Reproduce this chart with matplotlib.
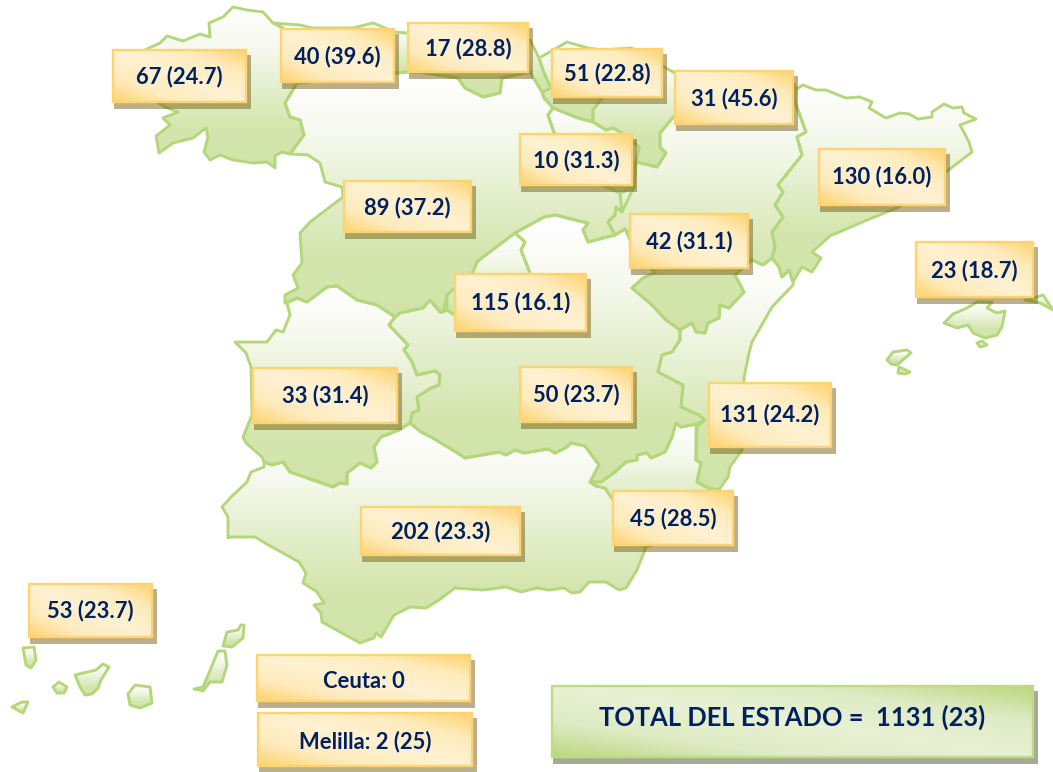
import numpy as np
import matplotlib
matplotlib.use('Agg')
import matplotlib.pyplot as plt
from matplotlib.colors import LinearSegmentedColormap
from matplotlib.patches import Polygon, Rectangle

plt.rcParams['font.family'] = ['Lato', 'DejaVu Sans']

# region outlines (pixel coordinates)
galicia = [(147, 49), (160, 43), (167, 36), (183, 41), (200, 34), (210, 37), (209, 23), (223, 17), (233, 7), (247, 10),
           (263, 12), (273, 23), (283, 28), (297, 83), (285, 103), (290, 117), (300, 120), (304, 135), (290, 154),
           (282, 152), (275, 156), (275, 168), (267, 162), (253, 163), (233, 160), (220, 155), (210, 160), (204, 152),
           (208, 137), (206, 128), (193, 138), (173, 143), (159, 153), (156, 136), (170, 125), (163, 118), (178, 112),
           (165, 107), (140, 90), (130, 60)]
asturias = [(273, 23), (300, 25), (313, 28), (333, 28), (353, 28), (373, 23), (395, 32), (407, 33), (425, 34), (425, 72),
            (407, 72), (397, 73), (297, 83), (283, 28)]
pais_vasco = [(420, 30), (530, 40), (539, 58), (544, 73), (551, 88), (542, 92), (530, 72), (502, 78), (500, 93),
              (483, 97), (465, 88), (458, 78), (438, 75), (420, 72)]
region_a = [(539, 58), (548, 53), (567, 42), (588, 48), (602, 50), (602, 98), (593, 110), (593, 122), (578, 118),
            (553, 108), (544, 98), (542, 92), (551, 88), (544, 73)]
navarra = [(602, 50), (632, 48), (664, 67), (675, 73), (690, 90), (675, 115), (660, 133), (660, 147), (666, 153),
           (657, 167), (636, 162), (639, 147), (622, 133), (613, 128), (606, 130), (593, 122), (593, 110), (602, 98)]
rioja = [(553, 108), (578, 118), (593, 122), (606, 130), (613, 128), (622, 133), (639, 147), (636, 162), (634, 187),
         (620, 193), (570, 170), (553, 130), (548, 115)]
cyl = [(397, 73), (407, 72), (420, 72), (438, 75), (458, 78), (465, 88), (483, 97), (500, 93), (502, 78), (530, 72),
       (542, 92), (544, 98), (553, 108), (548, 115), (553, 130), (570, 170), (620, 193), (634, 187), (622, 212),
       (616, 207), (615, 215), (608, 222), (615, 235), (588, 242), (583, 230), (588, 223), (567, 218), (556, 215),
       (544, 217), (515, 233), (483, 257), (477, 262), (473, 272), (447, 295), (443, 312), (440, 312), (430, 300),
       (423, 308), (400, 313), (395, 317), (377, 305), (357, 300), (337, 286), (327, 287), (307, 302), (297, 298),
       (285, 303), (285, 295), (298, 288), (293, 275), (302, 263), (300, 233), (310, 222), (343, 197), (342, 187),
       (325, 182), (320, 163), (308, 155), (290, 154), (304, 135), (300, 120), (290, 117), (285, 103), (297, 83)]
aragon = [(690, 90), (780, 75), (795, 85), (795, 102), (806, 132), (797, 137), (802, 155), (778, 185), (783, 192),
          (775, 205), (783, 217), (772, 232), (775, 247), (772, 258), (763, 265), (752, 260), (735, 275), (744, 292),
          (729, 308), (720, 305), (719, 318), (708, 323), (705, 333), (696, 332), (692, 323), (680, 330), (666, 320),
          (652, 305), (632, 288), (643, 278), (655, 273), (630, 240), (629, 233), (625, 229), (615, 235), (608, 222),
          (615, 215), (616, 207), (622, 212), (620, 193), (634, 187), (636, 162), (657, 167), (666, 153), (660, 147),
          (660, 133), (675, 115)]
catalunya = [(795, 102), (795, 90), (803, 85), (816, 90), (826, 90), (846, 98), (860, 97), (872, 102), (869, 108),
             (886, 118), (900, 113), (909, 114), (918, 119), (932, 117), (932, 112), (944, 104), (953, 108), (962, 107),
             (964, 113), (976, 119), (960, 125), (969, 142), (972, 152), (946, 172), (899, 207), (867, 220), (830, 236),
             (812, 252), (821, 258), (812, 272), (802, 267), (793, 282), (789, 270), (782, 277), (779, 267), (772, 258),
             (775, 247), (772, 232), (783, 217), (775, 205), (783, 192), (778, 185), (802, 155), (797, 137), (806, 132)]
valencia = [(763, 265), (772, 258), (779, 267), (782, 277), (789, 270), (793, 282), (793, 285), (772, 307), (752, 342),
            (749, 353), (744, 378), (745, 420), (742, 450), (730, 467), (728, 477), (719, 490), (708, 488), (697, 482),
            (701, 463), (696, 460), (696, 427), (705, 420), (699, 415), (681, 407), (683, 385), (658, 372), (662, 355),
            (672, 352), (680, 340), (680, 330), (692, 323), (696, 332), (705, 333), (708, 323), (719, 318), (720, 305),
            (729, 308), (744, 292), (735, 275), (752, 260)]
madrid = [(515, 233), (525, 242), (521, 250), (530, 273), (540, 300), (520, 330), (470, 325), (447, 310), (447, 295),
          (473, 272), (477, 262), (483, 257)]
clm = [(515, 233), (544, 217), (556, 215), (567, 218), (588, 223), (583, 230), (588, 242), (615, 235), (625, 229),
       (630, 240), (655, 273), (643, 278), (632, 288), (652, 305), (666, 320), (680, 330), (680, 340), (672, 352),
       (662, 355), (658, 372), (683, 385), (681, 407), (699, 415), (705, 420), (697, 424), (681, 427), (676, 423),
       (672, 437), (665, 452), (651, 458), (647, 453), (637, 455), (637, 460), (626, 462), (615, 472), (601, 482),
       (590, 482), (599, 465), (585, 446), (571, 443), (567, 447), (555, 453), (548, 449), (524, 453), (515, 450),
       (506, 455), (499, 452), (465, 458), (456, 452), (431, 437), (421, 432), (410, 423), (412, 413), (419, 410),
       (417, 397), (431, 388), (439, 385), (440, 375), (435, 371), (417, 375), (412, 362), (404, 350), (408, 345),
       (389, 325), (395, 317), (400, 313), (423, 308), (430, 300), (440, 312), (443, 312), (447, 310), (470, 325),
       (520, 330), (540, 300), (530, 273), (521, 250), (525, 242)]
extremadura = [(287, 303), (297, 298), (307, 302), (327, 287), (337, 286), (357, 300), (377, 305), (395, 317), (389, 325),
               (408, 345), (404, 350), (412, 362), (417, 375), (435, 371), (440, 375), (439, 385), (431, 388), (417, 397),
               (419, 410), (412, 413), (410, 423), (399, 430), (381, 437), (374, 447), (377, 462), (371, 468), (360, 463),
               (347, 473), (347, 484), (340, 483), (333, 487), (290, 472), (283, 462), (272, 465), (264, 462), (262, 457),
               (246, 443), (243, 437), (252, 415), (251, 367), (246, 353), (235, 342), (267, 342), (276, 330), (283, 332),
               (290, 315)]
andalucia = [(222, 507), (231, 497), (247, 482), (251, 472), (264, 467), (264, 462), (272, 465), (283, 462), (290, 472),
             (333, 487), (340, 483), (347, 484), (347, 473), (360, 463), (371, 468), (377, 462), (374, 447), (381, 437),
             (399, 430), (410, 423), (421, 432), (431, 437), (456, 452), (465, 458), (499, 452), (506, 455), (515, 450),
             (524, 453), (548, 449), (555, 453), (567, 447), (571, 443), (585, 446), (599, 465), (590, 482), (596, 486),
             (605, 488), (613, 500), (646, 547), (637, 570), (626, 588), (619, 590), (606, 582), (589, 582), (580, 592),
             (572, 593), (564, 588), (549, 590), (537, 588), (521, 592), (506, 587), (483, 590), (455, 588), (439, 600),
             (426, 608), (410, 607), (394, 615), (387, 627), (381, 637), (376, 633), (374, 638), (360, 643), (322, 622),
             (321, 613), (314, 605), (324, 603), (317, 592), (303, 583), (306, 573), (299, 562), (265, 543), (255, 537),
             (231, 537), (228, 538), (228, 517)]
murcia = [(590, 482), (601, 482), (615, 472), (626, 462), (637, 460), (637, 455), (647, 453), (651, 458), (665, 452),
          (672, 437), (676, 423), (681, 427), (697, 424), (696, 460), (701, 463), (697, 482), (708, 488), (719, 490),
          (700, 530), (646, 547), (613, 500), (605, 488), (596, 486)]
mallorca = [(944, 323), (953, 314), (967, 308), (977, 302), (992, 302), (987, 308), (997, 313), (1005, 311), (1002, 327),
            (997, 335), (985, 338), (973, 333), (968, 325), (957, 328)]
menorca = [(1025, 300), (1037, 297), (1043, 295), (1053, 310), (1040, 303)]
cabrera = [(977, 343), (982, 341), (987, 345), (980, 347)]
ibiza = [(887, 360), (893, 352), (907, 350), (911, 353), (897, 365), (891, 364)]
formentera = [(898, 373), (899, 367), (910, 372), (905, 374)]
el_hierro = [(12, 707), (22, 702), (28, 702), (23, 713)]
la_gomera = [(53, 687), (59, 682), (67, 687), (64, 693), (57, 693)]
la_palma = [(23, 648), (34, 647), (36, 660), (31, 668), (26, 665)]
tenerife = [(75, 675), (96, 670), (103, 664), (109, 667), (101, 680), (98, 688), (92, 694), (85, 695), (80, 687)]
gran_canaria = [(128, 694), (135, 685), (150, 687), (152, 703), (140, 708), (130, 705)]
fuerteventura = [(194, 689), (203, 687), (209, 673), (218, 651), (225, 651), (227, 665), (222, 682), (210, 682), (203, 691)]
lanzarote = [(227, 632), (238, 630), (241, 625), (244, 625), (243, 638), (232, 647), (223, 646)]

regions = [galicia, asturias, pais_vasco, region_a, navarra, rioja, cyl, aragon, catalunya, valencia, madrid, clm,
           extremadura, andalucia, murcia, mallorca, menorca, cabrera, ibiza, formentera, el_hierro, la_gomera,
           la_palma, tenerife, gran_canaria, fuerteventura, lanzarote]

# labels and their boxes (left, top, right, bottom)
labels = ['67 (24.7)', '40 (39.6)', '17 (28.8)', '51 (22.8)', '31 (45.6)', '10 (31.3)', '89 (37.2)', '130 (16.0)',
          '42 (31.1)', '23 (18.7)', '115 (16.1)', '33 (31.4)', '50 (23.7)', '131 (24.2)', '202 (23.3)', '45 (28.5)',
          '53 (23.7)', 'Ceuta: 0', 'Melilla: 2 (25)']
boxes = [(112, 49, 247, 103), (280, 28, 395, 83), (407, 22, 529, 73), (551, 48, 663, 98), (674, 70, 794, 125),
         (519, 133, 633, 186), (343, 180, 472, 233), (818, 148, 946, 206), (629, 213, 749, 269), (915, 241, 1034, 298),
         (454, 273, 587, 332), (252, 367, 398, 424), (519, 366, 633, 423), (708, 382, 832, 448), (360, 506, 521, 556),
         (612, 490, 734, 546), (28, 583, 153, 638), (256, 654, 471, 702), (257, 712, 473, 767)]
# how far each label sits below the middle of its box
label_shift = [1, 1, 1, 1, 1, 1, 1, 0, 1, 1, 0, 0, 0, 0, 1, 1, 0, 4, 2]
total_label = 'TOTAL DEL ESTADO =  1131 (23)'
total_box = (551, 685, 1034, 758)

map_cmap = LinearSegmentedColormap.from_list('map', ['#ffffff', '#f6f9ee', '#e4efcd', '#d4e6ae', '#d0e4a8'])
box_cmap = LinearSegmentedColormap.from_list('box', ['#fff2d2', '#feebbd', '#ffd26c'])
total_cmap = LinearSegmentedColormap.from_list('total', ['#e8f1d3', '#dfebc4', '#b9d77c'])


def draw_region(ax, pts):
    xs = [p[0] for p in pts]
    ys = [p[1] for p in pts]
    grad = np.linspace(0, 1, 128).reshape(-1, 1)
    im = ax.imshow(grad, cmap=map_cmap, extent=(min(xs), max(xs), max(ys), min(ys)), aspect='auto', zorder=2)
    patch = Polygon(pts, closed=True, fc='none', ec='#b5d77c', lw=2.1, joinstyle='round', zorder=3)
    ax.add_patch(patch)
    im.set_clip_path(patch)


def draw_box(ax, box, text, cmap, edge, shadow, size, shift):
    x0, y0, x1, y1 = box
    ax.add_patch(Rectangle((x0 + 2, y0 + 6), x1 - x0 + 2, y1 - y0, fc=shadow[0], alpha=shadow[1], ec='none', zorder=4))
    # diagonal gradient, deep in the top right and bottom left corners
    u, v = np.meshgrid(np.linspace(0, 1, 120), np.linspace(0, 1, 60))
    ax.imshow(np.abs(u - v), cmap=cmap, vmin=0, vmax=1, extent=(x0, x1, y1, y0), aspect='auto', zorder=5)
    ax.add_patch(Rectangle((x0 + 1, y0 + 1), x1 - x0 - 2, y1 - y0 - 2, fc='none', ec=edge, lw=1.7, zorder=6))
    ax.text((x0 + x1) / 2, (y0 + y1) / 2 + shift, text, ha='center', va='center', color='#002060',
            fontsize=size, fontweight='bold', zorder=7)


fig = plt.figure(figsize=(10.53, 7.72), dpi=100)
ax = fig.add_axes([0, 0, 1, 1])

for pts in regions:
    draw_region(ax, pts)

for box, text, shift in zip(boxes, labels, label_shift):
    draw_box(ax, box, text, box_cmap, '#ffd36f', ('#6b4f00', 0.45), 15.8, shift)
draw_box(ax, total_box, total_label, total_cmap, '#bfdb86', ('#4a5a30', 0.5), 18.4, -4)

ax.set_xlim(0, 1053)
ax.set_ylim(772, 0)
ax.axis('off')
fig.savefig('out.png', dpi=100)
